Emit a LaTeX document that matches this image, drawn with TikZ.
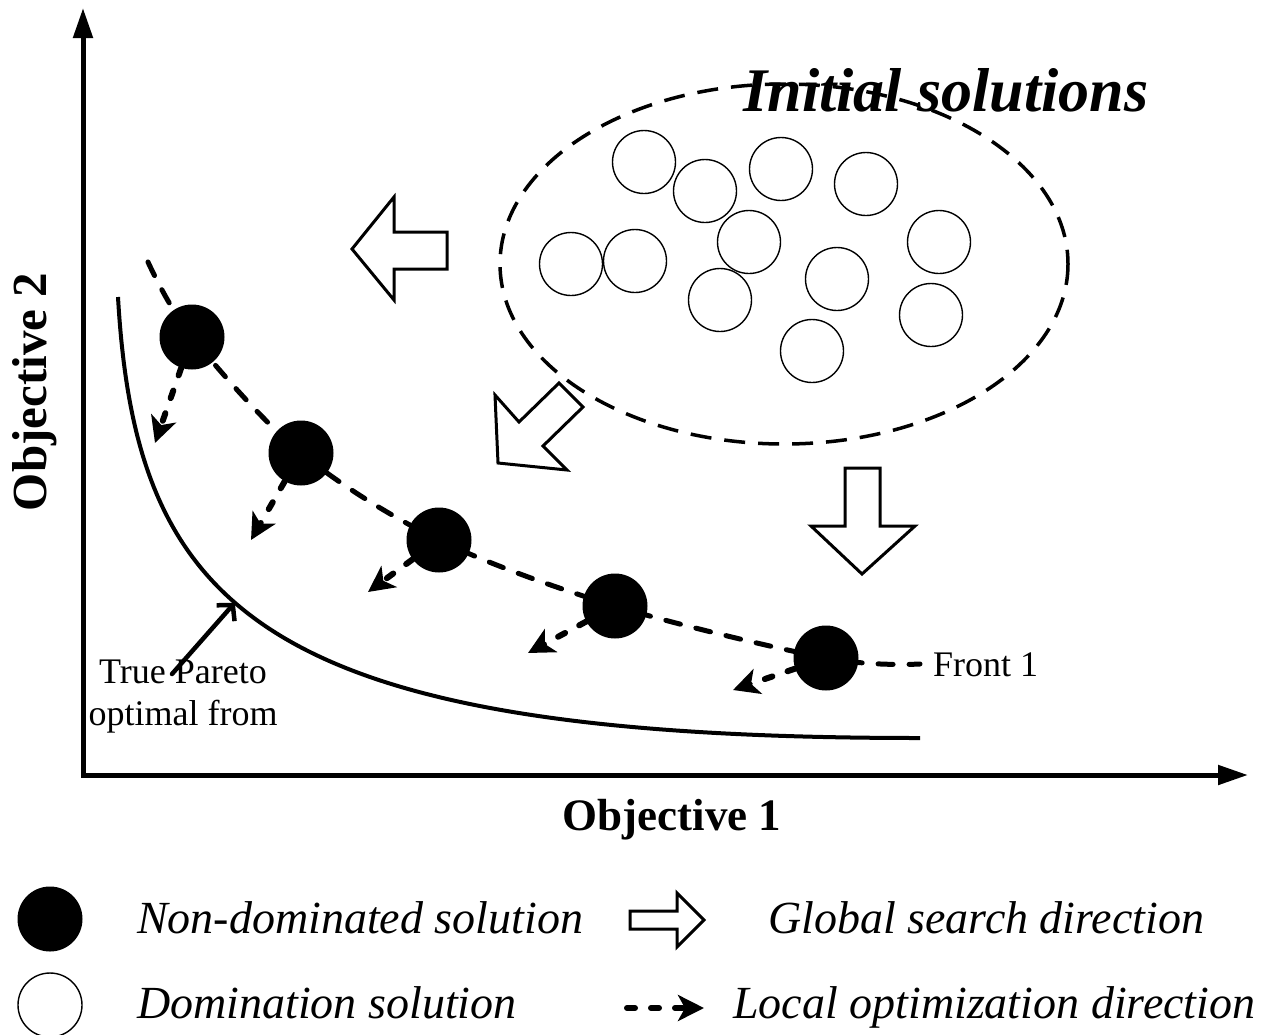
\documentclass[tikz,border=0pt]{standalone}
\usepackage{fontspec}
\setmainfont{Liberation Serif}
\usetikzlibrary{arrows.meta}
\pgfdeclarelayer{bg}
\pgfsetlayers{bg,main}
\tikzset{
  solfill/.style={circle, fill=black, minimum size=65pt, inner sep=0pt},
  solopen/.style={circle, draw=black, line width=1.4pt, minimum size=63pt, inner sep=0pt},
  axisline/.style={line width=5pt, line join=miter, {Triangle[length=30pt,width=19pt]}-{Triangle[length=30pt,width=19pt]}},
  frontline/.style={line width=5pt, dash pattern=on 15pt off 16pt, line cap=round},
  paretoline/.style={line width=4pt},
  localarr/.style={line width=6pt, dash pattern=on 8pt off 16pt, line cap=round, -{Stealth[length=26pt,width=26pt,inset=7pt]}},
  annotarr/.style={line width=4.5pt, line cap=round, -{Straight Barb[length=11pt,width=24pt]}},
  blockarrow/.style={draw=black, fill=white, line width=3pt, line join=miter},
  setdash/.style={line width=3.5pt, dash pattern=on 21pt off 13pt},
  axlabel/.style={font=\bfseries\fontsize{45}{54}\selectfont, inner sep=0pt},
  smalllbl/.style={font=\fontsize{36}{42}\selectfont, inner sep=0pt},
  legtext/.style={font=\itshape\fontsize{46}{54}\selectfont, anchor=base west, inner sep=0pt},
}
\begin{document}
\begin{tikzpicture}[x=1pt,y=-1pt]
\path[use as bounding box] (0,0) rectangle (1277,1034);

% axes
\coordinate (O) at (83,775);
\coordinate (yt) at (83,8);
\coordinate (xt) at (1248,775);
\draw[axisline] (yt) -- (O) -- (xt);
\node[axlabel] (ax1) at (672,820) {Objective 1};
\node[axlabel, font=\bfseries\fontsize{49}{56}\selectfont, rotate=90] (ax2) at (35,392) {Objective 2};

% initial solutions
\node[font=\bfseries\itshape\fontsize{62}{70}\selectfont, inner sep=0pt] (title) at (946,90) {Initial solutions};
\draw[setdash] (784,264) ellipse [x radius=284, y radius=180];
\node[solopen] (o1) at (644,162) {};
\node[solopen] (o2) at (705,191) {};
\node[solopen] (o3) at (781,169) {};
\node[solopen] (o4) at (866,184) {};
\node[solopen] (o5) at (749,242) {};
\node[solopen] (o6) at (939,242) {};
\node[solopen] (o7) at (571,264) {};
\node[solopen] (o8) at (635,261) {};
\node[solopen] (o9) at (837,279) {};
\node[solopen] (o10) at (720,300) {};
\node[solopen] (o11) at (931,315) {};
\node[solopen] (o12) at (812,351) {};

% global search arrows
\draw[blockarrow] (352,249) -- (394,197) -- (394,232) -- (447,232) -- (447,269) -- (394,269) -- (394,300) -- cycle;
\draw[blockarrow] (498,463) -- (495,395) -- (519,422) -- (559,383) -- (583,407) -- (543,446) -- (567,470) -- cycle;
\draw[blockarrow] (845,468) -- (880,468) -- (880,526) -- (915,526) -- (862,574) -- (811,526) -- (845,526) -- cycle;

% front 1
\node[solfill] (d1) at (192,337) {};
\node[solfill] (d2) at (301,453) {};
\node[solfill] (d3) at (439,540) {};
\node[solfill] (d4) at (615,606) {};
\node[solfill] (d5) at (826,658) {};
\coordinate (fs) at (148,262);
\coordinate (fe) at (920,664);
\node[smalllbl, anchor=west] (front) at (933,665) {Front 1};
\begin{pgfonlayer}{bg}
\draw[frontline] plot[smooth, tension=0.55] coordinates {(fs) (d1.center) (d2.center) (d3.center) (d4.center) (d5.center) (fe)};
\end{pgfonlayer}

% local optimization arrows
\coordinate (t1) at (155,443);
\coordinate (t2) at (251,540);
\coordinate (t3) at (368,592);
\coordinate (t4) at (528,653);
\coordinate (t5) at (733,690);
\draw[localarr] (d1) -- (t1);
\draw[localarr] (d2) -- (t2);
\draw[localarr] (d3) -- (t3);
\draw[localarr] (d4) -- (t4);
\draw[localarr] (d5) -- (t5);

% true Pareto front
\coordinate (ps) at (118,297);
\coordinate (pe) at (920,738);
\draw[paretoline] (ps) .. controls (136,610) and (262,738) .. (pe) coordinate[pos=0.43] (ptip);
\node[smalllbl, align=center] (tp) at (183,697) {True Pareto\\optimal from};
\coordinate (tpa) at (172,674);
\draw[annotarr] (tpa) -- (ptip);

% legend
\node[solfill] (lg1) at (50,919) {};
\node[legtext] (lgt1) at (137,933) {Non-dominated solution};
\node[solopen, minimum size=64pt] (lg2) at (50,1005) {};
\node[legtext] (lgt2) at (137,1018) {Domination solution};
\draw[blockarrow] (630,911) -- (677,911) -- (677,893) -- (704,920) -- (677,947) -- (677,929) -- (630,929) -- cycle;
\node[legtext] (lgt3) at (768,933) {Global search direction};
\coordinate (la1) at (627,1008);
\coordinate (la2) at (704,1008);
\draw[localarr] (la1) -- (la2);
\node[legtext] (lgt4) at (733,1018) {Local optimization direction};
\end{tikzpicture}
\end{document}
